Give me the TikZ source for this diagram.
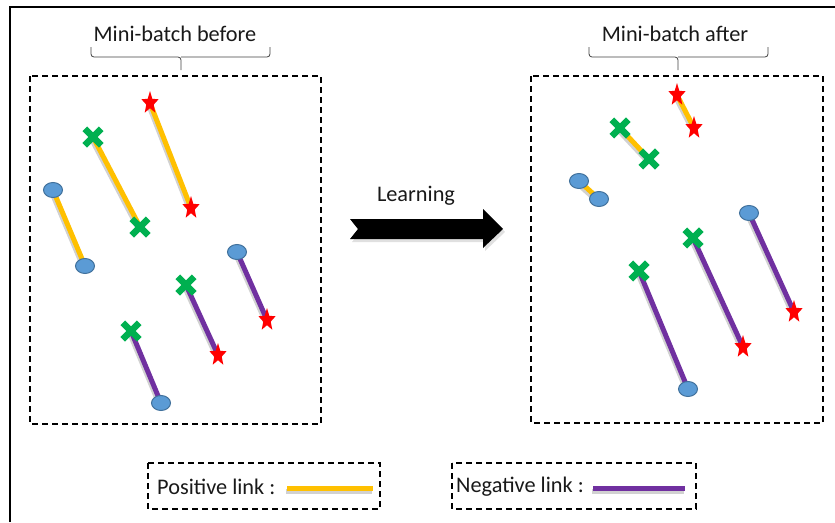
\documentclass[tikz,border=0pt]{standalone}
\usepackage{fontspec}
\setmainfont{Carlito}
\usetikzlibrary{shapes.geometric,shapes.misc,backgrounds}
\definecolor{posY}{HTML}{FFC000}
\definecolor{negP}{HTML}{7030A0}
\definecolor{crossG}{HTML}{00B050}
\definecolor{dotB}{HTML}{5B9BD5}
\definecolor{dotBd}{HTML}{41719C}
\definecolor{starR}{HTML}{FF0000}
\begin{document}
\begin{tikzpicture}[x=1pt,y=-1pt,
  every node/.style={font=\fontsize{22.3}{26}\selectfont, text=black!90},
  dot/.style={ellipse, fill=dotB, draw=dotBd, line width=1pt, minimum width=19pt, minimum height=15pt, inner sep=0pt},
  crs/.style={cross out, draw=crossG, line width=6.5pt, minimum size=10pt, inner sep=0pt},
  str/.style={star, star points=5, star point ratio=2.3, fill=starR, minimum size=24pt, inner sep=0pt, xscale=0.75},
  poslink/.style={posY, line width=5pt},
  neglink/.style={negP, line width=5pt},
  shd/.style={black!18, line width=5pt},
  dbox/.style={draw=black, line width=1.8pt, dash pattern=on 6pt off 4pt},
  brc/.style={draw=black!75, line width=0.8pt, rounded corners=3pt}
]
\useasboundingbox (0,0) rectangle (835,522);
% outer frame
\draw[black, line width=1.2pt] (10,522) -- (10,7) -- (835,7);

% dashed boxes
\draw[dbox] (30,76) rectangle (321,424);
\draw[dbox] (531,76) rectangle (823,423);

% titles and braces
\node (tbefore) at (175,34) {Mini-batch before};
\node (tafter) at (675,34) {Mini-batch after};
\draw[brc] (91,47) -- (91,57) -- (181,57) -- (181,70);
\draw[brc] (270,47) -- (270,57) -- (181,57);
\draw[brc] (589,47) -- (589,57) -- (678,57) -- (678,70);
\draw[brc] (768,47) -- (768,57) -- (678,57);

% learning arrow
\node (learn) at (416,196) {Learning};
\fill[black!12] (352,222) -- (485,222) -- (485,212) -- (505,232) -- (485,251) -- (485,242) -- (352,242) -- (360,232) -- cycle;
\fill[black] (350,219) -- (483,219) -- (483,209) -- (503,229) -- (483,248) -- (483,239) -- (350,239) -- (358,229) -- cycle;

% left box endpoints
\node[dot] (L1a) at (53,190) {};
\node[dot] (L1b) at (85,266) {};
\node[crs] (L2a) at (93,137) {};
\node[crs] (L2b) at (140,227) {};
\node[str] (L3a) at (150,103) {};
\node[str] (L3b) at (191,208) {};
\node[dot] (L4a) at (237,252) {};
\node[str] (L4b) at (267,320) {};
\node[crs] (L5a) at (186,285) {};
\node[str] (L5b) at (218,355) {};
\node[crs] (L6a) at (131,331) {};
\node[dot] (L6b) at (161,403) {};

% right box endpoints
\node[str] (R1a) at (677,95) {};
\node[str] (R1b) at (694,128) {};
\node[crs] (R2a) at (620,128) {};
\node[crs] (R2b) at (649,159) {};
\node[dot] (R3a) at (579,181) {};
\node[dot] (R3b) at (599,199) {};
\node[dot] (R4a) at (749,213) {};
\node[str] (R4b) at (794,312) {};
\node[crs] (R5a) at (693,238) {};
\node[str] (R5b) at (743,347) {};
\node[crs] (R6a) at (639,271) {};
\node[dot] (R6b) at (688,389) {};

% legend
\draw[dbox] (148,463) rectangle (380,509);
\draw[dbox] (452,463) rectangle (696,509);
\node[anchor=west, inner sep=0pt] (ptxt) at (157,487) {Positive link :};
\node[anchor=west, inner sep=0pt] (ntxt) at (456,487) {Negative link :};
\coordinate (pl1) at (287,488);
\coordinate (pl2) at (373,488);
\coordinate (nl1) at (593,488);
\coordinate (nl2) at (685,488);

\begin{scope}[on background layer]
  \foreach \a/\b in {L1a/L1b,L2a/L2b,L3a/L3b,L4a/L4b,L5a/L5b,L6a/L6b,R1a/R1b,R2a/R2b,R3a/R3b,R4a/R4b,R5a/R5b,R6a/R6b,pl1/pl2,nl1/nl2}
    \draw[shd] ([shift={(-1,3)}]\a.center) -- ([shift={(-1,3)}]\b.center);
  \foreach \a/\b in {L1a/L1b,L2a/L2b,L3a/L3b,R1a/R1b,R2a/R2b,R3a/R3b,pl1/pl2}
    \draw[poslink] (\a.center) -- (\b.center);
  \foreach \a/\b in {L4a/L4b,L5a/L5b,L6a/L6b,R4a/R4b,R5a/R5b,R6a/R6b,nl1/nl2}
    \draw[neglink] (\a.center) -- (\b.center);
\end{scope}
\end{tikzpicture}
\end{document}
